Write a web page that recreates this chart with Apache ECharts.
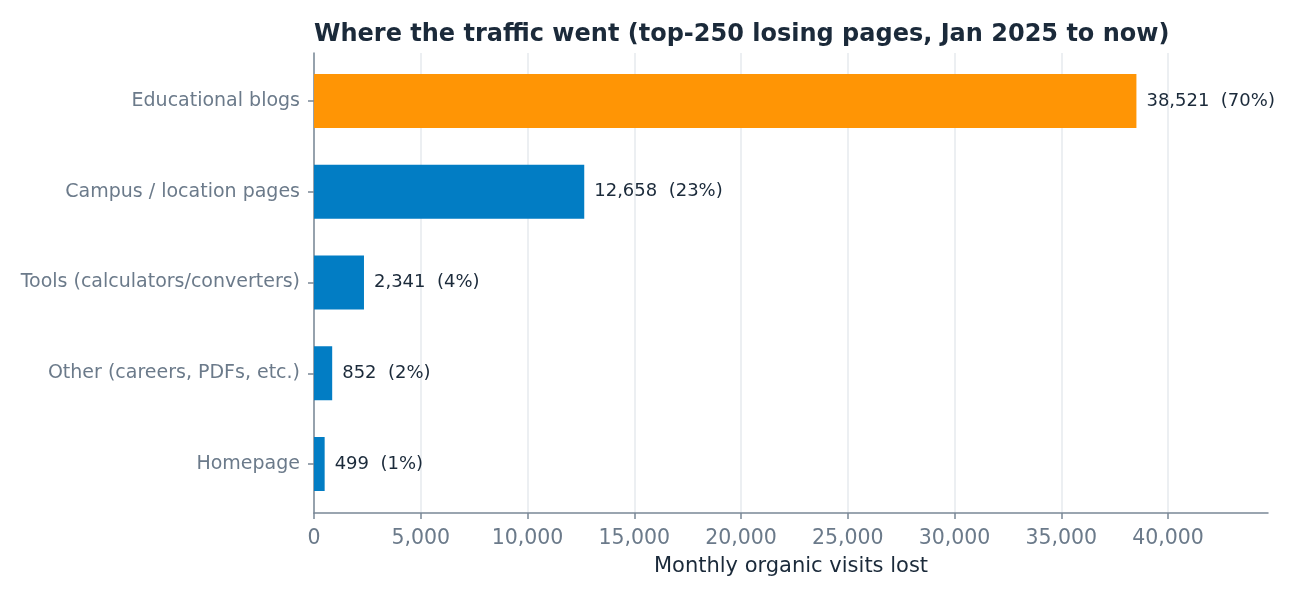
<!DOCTYPE html>
<html>
<head>
<meta charset="utf-8">
<script src="https://cdn.jsdelivr.net/npm/echarts@6/dist/echarts.min.js"></script>
<style>
  html, body { margin: 0; padding: 0; background: #fff; }
  #chart { width: 1290px; height: 600px; }
</style>
</head>
<body>
<div id="chart"></div>
<script>
// categories top to bottom
var categories = ['Educational blogs', 'Campus / location pages', 'Tools (calculators/converters)', 'Other (careers, PDFs, etc.)', 'Homepage'];
var visitsLost = [38521, 12658, 2341, 852, 499];
var shares = ['70%', '23%', '4%', '2%', '1%'];
var xTickMax = 40000;   // last labelled tick
var xAxisMax = 44684;   // axis runs a bit past the longest bar

var font = 'DejaVu Sans';
var dark = '#1b2a3a';
var grey = '#6b7a8a';
var axisGrey = '#7a8896';

var chart = echarts.init(document.getElementById('chart'));

var option = {
  animation: false,
  textStyle: { fontFamily: font },
  title: {
    text: 'Where the traffic went (top-250 losing pages, Jan 2025 to now)',
    left: 309,
    top: 18,
    textStyle: { fontFamily: font, fontSize: 24, fontWeight: 'bold', color: dark }
  },
  // 0: grid lines + tick labels, 1: axis frame, 2: bars (band padded like the ref)
  grid: [
    { left: 314, right: 122, top: 53, bottom: 87 },
    { left: 314, right: 22, top: 53, bottom: 87 },
    { left: 314, right: 122, top: 55.6, bottom: 90.6 }
  ],
  xAxis: [{
    gridIndex: 0,
    type: 'value',
    min: 0,
    max: xTickMax,
    interval: 5000,
    axisLine: { show: false },
    axisTick: { show: true, length: 6, lineStyle: { color: axisGrey, width: 1.5 } },
    axisLabel: {
      fontFamily: font, fontSize: 20.5, color: grey, margin: 15,
      formatter: function (v) { return v.toLocaleString('en-US'); }
    },
    splitLine: { show: true, lineStyle: { color: '#e6eaee', width: 1.5 } }
  }, {
    gridIndex: 1,
    type: 'value',
    min: 0,
    max: xAxisMax,
    name: 'Monthly organic visits lost',
    nameLocation: 'middle',
    nameGap: 43,
    nameTextStyle: { fontFamily: font, fontSize: 21, color: dark },
    axisLine: { show: true, lineStyle: { color: axisGrey, width: 1.5 } },
    axisTick: { show: false },
    axisLabel: { show: false },
    splitLine: { show: false }
  }, {
    gridIndex: 2,
    type: 'value',
    min: 0,
    max: xTickMax,
    show: false
  }],
  yAxis: [{
    gridIndex: 0,
    type: 'value',
    axisLine: { show: true, lineStyle: { color: axisGrey, width: 1.5 } },
    axisTick: { show: false },
    axisLabel: { show: false },
    splitLine: { show: false }
  }, {
    gridIndex: 1,
    type: 'value',
    show: false
  }, {
    gridIndex: 2,
    type: 'category',
    inverse: true,
    data: categories,
    axisLine: { show: false },
    axisTick: { show: true, alignWithLabel: true, length: 6, lineStyle: { color: axisGrey, width: 1.5 } },
    axisLabel: { fontFamily: font, fontSize: 19, color: grey, margin: 14 },
    splitLine: { show: false }
  }],
  series: [{
    type: 'bar',
    xAxisIndex: 2,
    yAxisIndex: 2,
    barWidth: 54,
    data: visitsLost.map(function (v, i) {
      return {
        value: v,
        itemStyle: { color: i === 0 ? '#ff9505' : '#027dc4' }
      };
    }),
    label: {
      show: true,
      position: 'right',
      distance: 10,
      fontFamily: font,
      fontSize: 18,
      color: dark,
      formatter: function (p) {
        return p.value.toLocaleString('en-US') + '  (' + shares[p.dataIndex] + ')';
      }
    }
  }]
};

chart.setOption(option);
</script>
</body>
</html>
